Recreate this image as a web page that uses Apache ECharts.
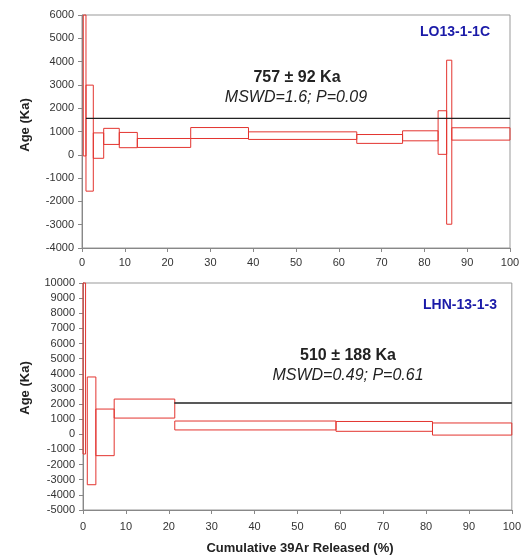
<!DOCTYPE html>
<html>
<head>
<meta charset="utf-8">
<script src="https://cdn.jsdelivr.net/npm/echarts@6/dist/echarts.min.js"></script>
<style>html,body{margin:0;padding:0;background:#fff}#c{width:524px;height:558px}</style>
</head>
<body>
<div id="c"></div>
<script>
// ---- Data (cumulative 39Ar %, age in Ka) ----
const xTicks = [0, 10, 20, 30, 40, 50, 60, 70, 80, 90, 100];

// Top sample LO13-1-1C
const topStart = [0.3, 0.93, 2.64, 5.07, 8.71, 12.92, 25.4, 38.9, 64.2, 74.9, 83.2, 85.2, 86.4];
const topEnd   = [0.93, 2.64, 5.07, 8.71, 12.92, 25.4, 38.9, 64.2, 74.9, 83.2, 85.2, 86.4, 100];
const topLow   = [-50, -1560, -150, 445, 305, 316, 700, 660, 490, 600, 20, -2980, 630];
const topHigh  = [20000, 2990, 940, 1135, 960, 700, 1170, 985, 870, 1030, 1890, 4060, 1160];
const topPlateauX = [0.93, 100];
const topPlateauY = [1560, 1560];

// Bottom sample LHN-13-1-3
const botStart = [0, 1.0, 3.0, 7.27, 21.4, 59.0, 81.5];
const botEnd   = [0.6, 3.0, 7.27, 21.4, 59.0, 81.5, 100];
const botLow   = [-1300, -3330, -1410, 1075, 290, 200, -50];
const botHigh  = [20000, 3790, 1670, 2330, 880, 850, 750];
const botPlateauX = [21.3, 100];
const botPlateauY = [2070, 2070];

const topLabel = 'LO13-1-1C', botLabel = 'LHN-13-1-3';
const topAge = '757 ± 92 Ka', topStats = 'MSWD=1.6; P=0.09';
const botAge = '510 ± 188 Ka', botStats = 'MSWD=0.49; P=0.61';

// ---- Build ----
const FONT = '"Liberation Sans", Arial, sans-serif';
const RED = '#e3342f';

function rows(s, e, lo, hi) { return s.map((v, i) => [v, e[i], lo[i], hi[i]]); }
function pts(xs, ys) { return xs.map((v, i) => [v, ys[i]]); }

function renderItem(params, api) {
  const p0 = api.coord([api.value(0), api.value(3)]);
  const p1 = api.coord([api.value(1), api.value(2)]);
  const cs = params.coordSys;
  const r = echarts.graphic.clipRectByRect(
    { x: p0[0], y: p0[1], width: p1[0] - p0[0], height: p1[1] - p0[1] },
    { x: cs.x, y: cs.y, width: cs.width, height: cs.height });
  if (!r) return null;
  return { type: 'rect', shape: r, style: { fill: 'none', stroke: RED, lineWidth: 1 } };
}

function xAxis(gi, margin) {
  return {
    gridIndex: gi, type: 'value', min: 0, max: 100, interval: 10,
    axisLine: { show: true, onZero: false, lineStyle: { color: '#888' } },
    axisTick: { show: true, length: 4, lineStyle: { color: '#888' } },
    axisLabel: { color: '#333', fontSize: 11, fontFamily: FONT, margin: margin },
    splitLine: { show: false }
  };
}
function yAxis(gi, min, max) {
  return {
    gridIndex: gi, type: 'value', min: min, max: max, interval: 1000,
    axisLine: { show: true, onZero: false, lineStyle: { color: '#888' } },
    axisTick: { show: true, length: 4, lineStyle: { color: '#888' } },
    axisLabel: { color: '#333', fontSize: 11, fontFamily: FONT, margin: 8,
      formatter: v => String(v) },
    splitLine: { show: false }
  };
}
function txt(x, y, text, size, weight, style, color, rot) {
  return { type: 'text', x: x, y: y, z: 100, rotation: rot || 0,
    style: { text: text, fontFamily: FONT, fontSize: size, fontWeight: weight, fontStyle: style,
      textAlign: 'center', textVerticalAlign: 'middle', fill: color || '#222' } };
}

const chart = echarts.init(document.getElementById('c'), null, { renderer: 'canvas' });
chart.setOption({
  animation: false,
  backgroundColor: '#fff',
  grid: [
    { left: 82, top: 15, width: 428, height: 233, show: true, borderColor: '#999', borderWidth: 1, backgroundColor: 'transparent' },
    { left: 83, top: 283, width: 431, height: 227, show: true, borderColor: '#999', borderWidth: 1, backgroundColor: 'transparent' }
  ],
  xAxis: [xAxis(0, 9), xAxis(1, 11)],
  yAxis: [yAxis(0, -4000, 6000), yAxis(1, -5000, 10000)],
  series: [
    { type: 'custom', xAxisIndex: 0, yAxisIndex: 0, renderItem: renderItem,
      encode: { x: [0, 1], y: [2, 3] }, data: rows(topStart, topEnd, topLow, topHigh) },
    { type: 'line', xAxisIndex: 0, yAxisIndex: 0, data: pts(topPlateauX, topPlateauY),
      showSymbol: false, lineStyle: { color: '#222', width: 1.3 }, z: 5 },
    { type: 'custom', xAxisIndex: 1, yAxisIndex: 1, renderItem: renderItem,
      encode: { x: [0, 1], y: [2, 3] }, data: rows(botStart, botEnd, botLow, botHigh) },
    { type: 'line', xAxisIndex: 1, yAxisIndex: 1, data: pts(botPlateauX, botPlateauY),
      showSymbol: false, lineStyle: { color: '#222', width: 1.3 }, z: 5 }
  ],
  graphic: [
    txt(455, 32, topLabel, 14, 'bold', 'normal', '#1a1aa8'),
    txt(297, 78, topAge, 16, 'bold', 'normal'),
    txt(296, 98, topStats, 16, 'normal', 'italic'),
    txt(460, 305, botLabel, 14, 'bold', 'normal', '#1a1aa8'),
    txt(348, 356, botAge, 16, 'bold', 'normal'),
    txt(348, 376, botStats, 16, 'normal', 'italic'),
    txt(25, 125, 'Age (Ka)', 13, 'bold', 'normal', '#222', Math.PI / 2),
    txt(25, 388, 'Age (Ka)', 13, 'bold', 'normal', '#222', Math.PI / 2),
    txt(300, 548, 'Cumulative 39Ar Released (%)', 13, 'bold', 'normal')
  ]
});
</script>
</body>
</html>
